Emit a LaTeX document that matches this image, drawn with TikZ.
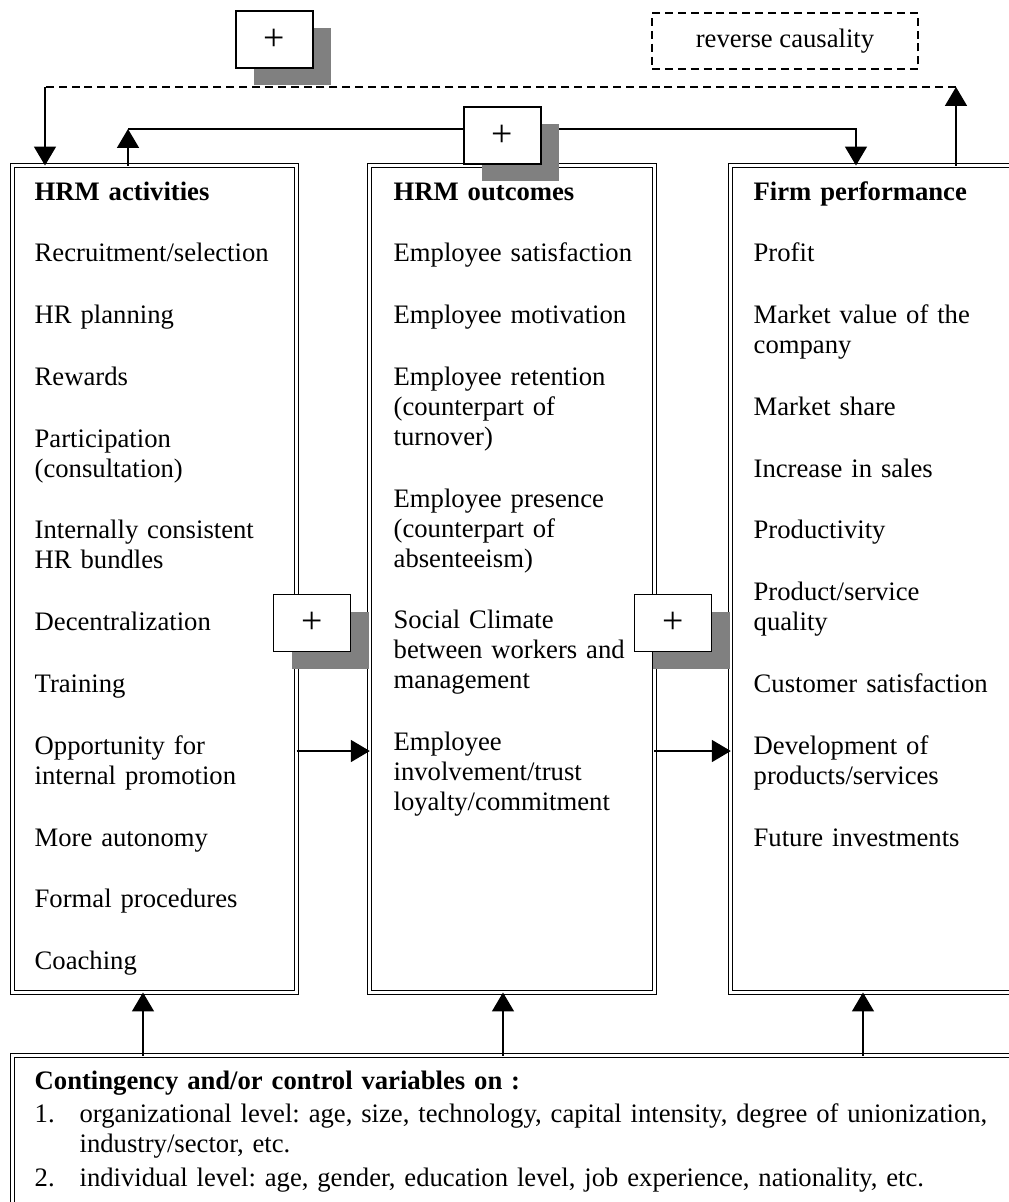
\documentclass[tikz,border=0pt]{standalone}
\usepackage{fontspec}
\setmainfont{Liberation Serif}
\usepackage{tikz}
\usetikzlibrary{positioning}
\usetikzlibrary{arrows.meta,shadows}
\usepackage{color}
\definecolor{hrGray}{rgb}{0.5,0.5,0.5}
\newcommand{\itemgap}{\\[14.3pt]}
\frenchspacing

\begin{document}
\begin{tikzpicture}
[x=0.45pt, y=-0.45pt, line width=0.6pt, >={Triangle[length=8.5pt,width=9.9pt]},
  colbox/.style   = { draw, double, double distance=1.2pt, line width=0.5pt, outer sep=0pt,
                      fill=white, minimum width=128pt, minimum height=372.15pt },
  coltext/.style  = { anchor=base west, inner sep=0pt, text width=125pt, align=left,
                      font=\fontsize{12pt}{13.5pt}\selectfont },
  plusbox/.style  = { draw, fill=white, inner sep=0pt, minimum width=34.65pt, minimum height=25.65pt,
                      drop shadow={shadow xshift=8.1pt, shadow yshift=-7.65pt, fill=hrGray, opacity=1},
                      font=\fontsize{17pt}{18pt}\selectfont },
  dashline/.style = { dash pattern=on 3.6pt off 2.2pt }
]

% Page:
\useasboundingbox (0,0) rectangle (1009,1202);
\clip (0,0) rectangle (1009,1202);

% Columns:
\node[colbox] (actv) at (154.5,579) {};
\node[colbox] (outc) at (512,579)   {};
\node[colbox] (perf) at (873,579)   {};
\node[colbox, minimum width=495pt, minimum height=90pt] (contg) at (562.5,1155.5) {};

\node[coltext] (actvtxt) at (34,200)
{\textbf{HRM activities}\itemgap Recruitment/selection\itemgap HR planning\itemgap Rewards\itemgap
 Participation\\(consultation)\itemgap Internally consistent\\HR bundles\itemgap Decentralization\itemgap
 Training\itemgap Opportunity for\\internal promotion\itemgap More autonomy\itemgap Formal procedures\itemgap
 Coaching};
\node[coltext] (outctxt) at (393,200)
{\textbf{HRM outcomes}\itemgap Employee satisfaction\itemgap Employee motivation\itemgap
 Employee retention\\(counterpart of\\turnover)\itemgap Employee presence\\(counterpart of\\absenteeism)\itemgap
 Social Climate\\between workers and\\management\itemgap Employee\\involvement/trust\\loyalty/commitment};
\node[coltext] (perftxt) at (753,200)
{\textbf{Firm performance}\itemgap Profit\itemgap Market value of the\\company\itemgap Market share\itemgap
 Increase in sales\itemgap Productivity\itemgap Product/service\\quality\itemgap Customer satisfaction\itemgap
 Development of\\products/services\itemgap Future investments};

% Contingency list:
\node[coltext, text width=440pt] (contgtxt) at (34,1089)
{\textbf{Contingency and/or control variables on :}\\[1.35pt]
 \makebox[20.25pt][l]{1.}organizational level: age, size, technology, capital intensity, degree of unionization,\\
 \hspace*{20.25pt}industry/sector, etc.\\[1.8pt]
 \makebox[20.25pt][l]{2.}individual level: age, gender, education level, job experience, nationality, etc.};

% Reverse causality loop:
\draw[->] (perf.north -| 956,0) -- (956,87) coordinate (revR);
\draw[dashline] (revR) -- (45,87) coordinate (revL);
\draw[->] (revL) -- (actv.north -| 45,0);

% HRM activities -> firm performance, over the top:
\draw[->] (actv.north -| 128,0) -- (128,129) coordinate (topL);
\draw[->] (topL) -| (perf.north -| 856,0);

% Column to column:
\draw[->] (actv.east |- 0,751) -- (outc.west |- 0,751);
\draw[->] (outc.east |- 0,751) -- (perf.west |- 0,751);

% Contingency arrows:
\foreach \xx/\nd in {143/actv, 503/outc, 863/perf}
  \draw[->] (contg.north -| \xx,0) -- (\nd.south -| \xx,0);

% Plus signs:
\node[plusbox] (plusA) at (274.5,39.5) {+};
\node[plusbox] (plusB) at (502.5,135.5) {+};
\node[plusbox] (plusC) at (312,623) {+};
\node[plusbox] (plusD) at (673,623) {+};

\node[draw, dashline, minimum width=119.7pt, minimum height=25.2pt,
      font=\fontsize{12pt}{13.5pt}\selectfont] (revc) at (785,41) {reverse causality};
\end{tikzpicture}
\end{document}
